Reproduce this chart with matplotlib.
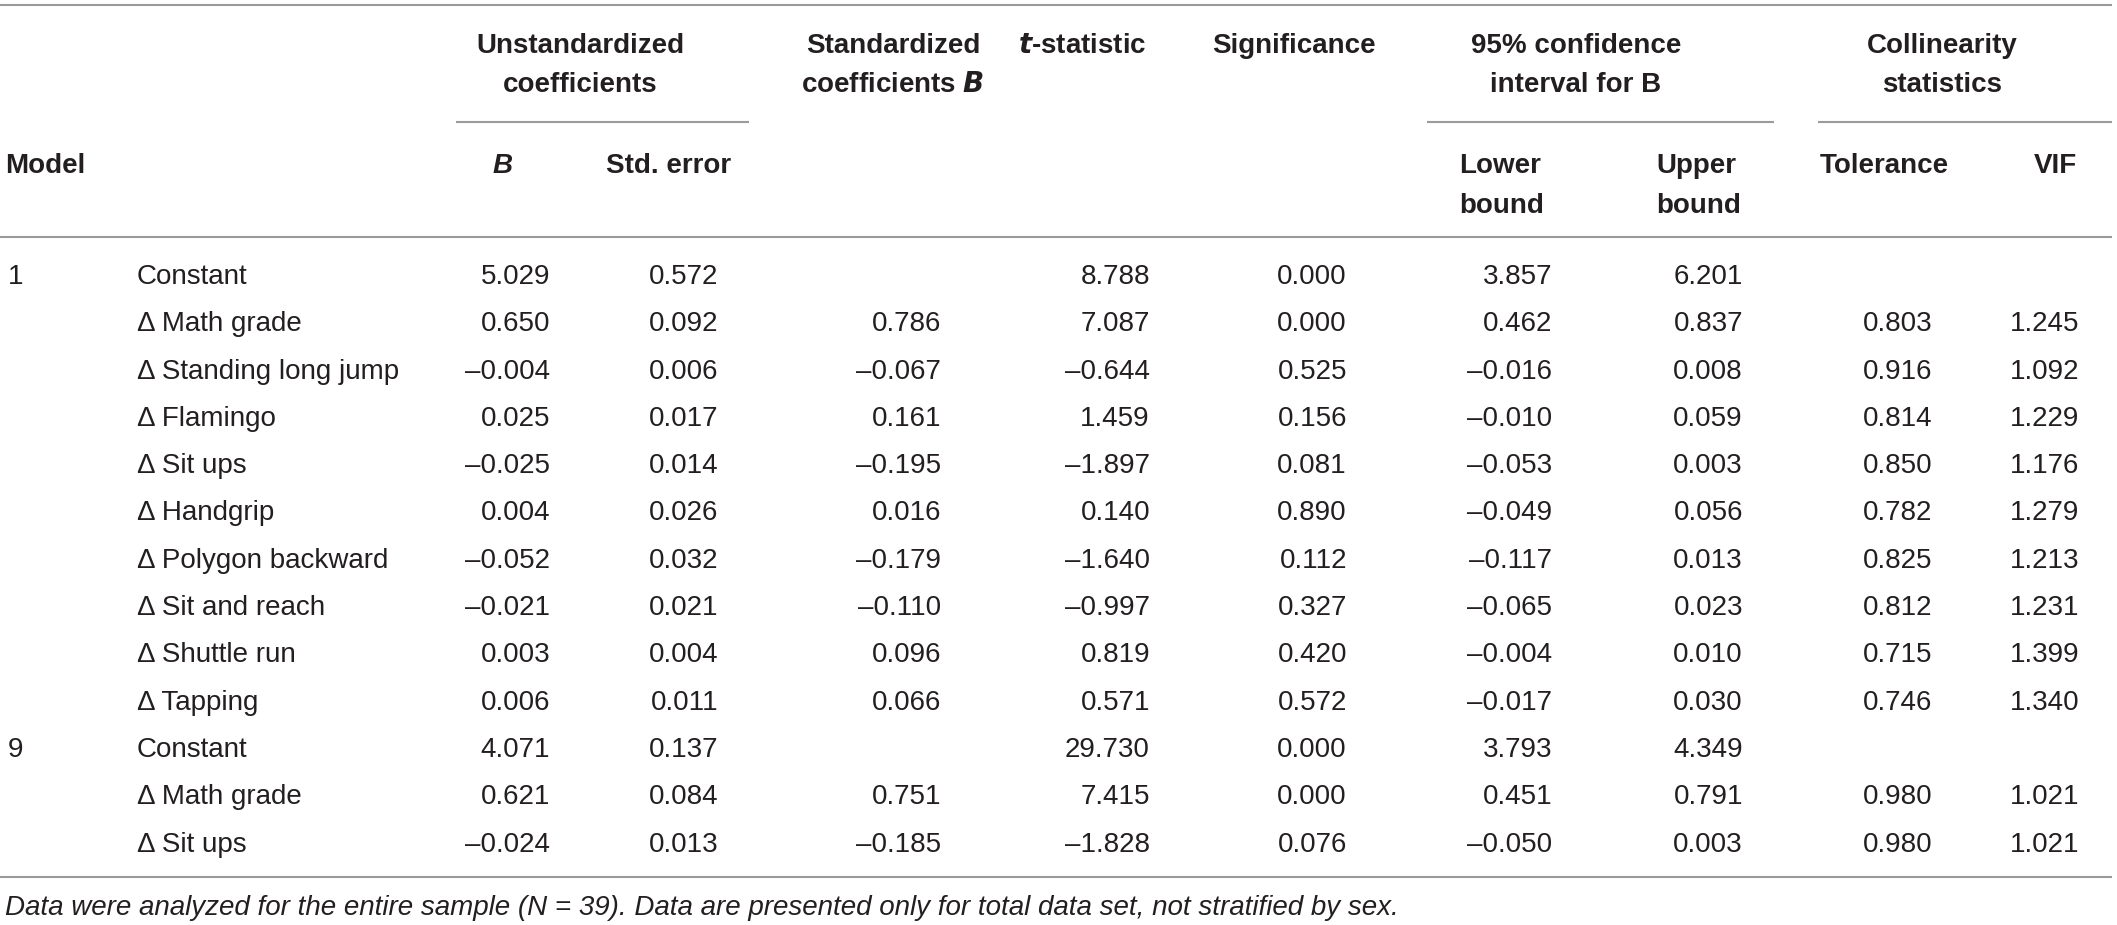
import matplotlib
matplotlib.use("Agg")
import matplotlib.pyplot as plt

plt.rcParams['font.family'] = ['Liberation Sans', 'DejaVu Sans']

# ---- data ----
models = ["1", "", "", "", "", "", "", "", "", "", "9", "", ""]
variables = ["Constant", "\u0394 Math grade", "\u0394 Standing long jump", "\u0394 Flamingo",
             "\u0394 Sit ups", "\u0394 Handgrip", "\u0394 Polygon backward", "\u0394 Sit and reach",
             "\u0394 Shuttle run", "\u0394 Tapping", "Constant", "\u0394 Math grade", "\u0394 Sit ups"]
B = [5.029, 0.650, -0.004, 0.025, -0.025, 0.004, -0.052, -0.021, 0.003, 0.006, 4.071, 0.621, -0.024]
std_error = [0.572, 0.092, 0.006, 0.017, 0.014, 0.026, 0.032, 0.021, 0.004, 0.011, 0.137, 0.084, 0.013]
beta = [None, 0.786, -0.067, 0.161, -0.195, 0.016, -0.179, -0.110, 0.096, 0.066, None, 0.751, -0.185]
t_stat = [8.788, 7.087, -0.644, 1.459, -1.897, 0.140, -1.640, -0.997, 0.819, 0.571, 29.730, 7.415, -1.828]
significance = [0.000, 0.000, 0.525, 0.156, 0.081, 0.890, 0.112, 0.327, 0.420, 0.572, 0.000, 0.000, 0.076]
lower = [3.857, 0.462, -0.016, -0.010, -0.053, -0.049, -0.117, -0.065, -0.004, -0.017, 3.793, 0.451, -0.050]
upper = [6.201, 0.837, 0.008, 0.059, 0.003, 0.056, 0.013, 0.023, 0.010, 0.030, 4.349, 0.791, 0.003]
tolerance = [None, 0.803, 0.916, 0.814, 0.850, 0.782, 0.825, 0.812, 0.715, 0.746, None, 0.980, 0.980]
vif = [None, 1.245, 1.092, 1.229, 1.176, 1.279, 1.213, 1.231, 1.399, 1.340, None, 1.021, 1.021]
footnote = ("Data were analyzed for the entire sample (N = 39). "
            "Data are presented only for total data set, not stratified by sex.")

# ---- layout ----
W, H = 2117, 925
fig = plt.figure(figsize=(W / 100, H / 100), dpi=100)
ax = fig.add_axes([0, 0, 1, 1])
ax.set_xlim(0, W)
ax.set_ylim(H, 0)
ax.axis('off')

FS = 20
TXT = '#231f20'
LINE = '#9b9b9b'
LW = 1.5
CAP = 10  # half cap height in px, center -> baseline

def fmt(v):
    if v is None:
        return ""
    s = f"{v:.3f}"
    return s.replace("-", "\u2013")

def txt(x, yc, s, ha='left', weight='normal', style='normal', size=FS):
    ax.text(x, yc + CAP, s, ha=ha, va='baseline', fontsize=size,
            fontweight=weight, fontstyle=style, color=TXT)

# horizontal rules
ax.plot([0, 2112], [5, 5], color=LINE, lw=LW, solid_capstyle='butt')
ax.plot([0, 2112], [237, 237], color=LINE, lw=LW, solid_capstyle='butt')
ax.plot([0, 2112], [877, 877], color=LINE, lw=LW, solid_capstyle='butt')
for x0, x1 in [(456, 749), (1427, 1774), (1818, 2112)]:
    ax.plot([x0, x1], [122, 122], color=LINE, lw=LW, solid_capstyle='butt')

# header
y1, y2, y3, y4 = 43, 82, 163, 203
txt(580, y1, "Unstandardized", ha='center', weight='bold')
txt(580, y2, "coefficients", ha='center', weight='bold')
txt(893, y1, "Standardized", ha='center', weight='bold')
ax.text(893, y2 + CAP, r"coefficients $\boldsymbol{B}$", ha='center', va='baseline',
        fontsize=FS, fontweight='bold', color=TXT)
ax.text(1018, y1 + CAP, r"$\boldsymbol{t}$-statistic", ha='left', va='baseline',
        fontsize=FS, fontweight='bold', color=TXT)
txt(1212, y1, "Significance", weight='bold')
txt(1576, y1, "95% confidence", ha='center', weight='bold')
txt(1576, y2, "interval for B", ha='center', weight='bold')
txt(1942, y1, "Collinearity", ha='center', weight='bold')
txt(1942, y2, "statistics", ha='center', weight='bold')

txt(5, y3, "Model", weight='bold')
txt(493, y3, "B", weight='bold', style='italic')
txt(606, y3, "Std. error", weight='bold')
txt(1459, y3, "Lower", weight='bold')
txt(1459, y4, "bound", weight='bold')
txt(1656, y3, "Upper", weight='bold')
txt(1656, y4, "bound", weight='bold')
txt(1820, y3, "Tolerance", weight='bold')
txt(2034, y3, "VIF", weight='bold')

# body
plt.rcParams['mathtext.fontset'] = 'custom'
plt.rcParams['mathtext.bf'] = 'Liberation Sans:bold:italic'

col_right = [550, 718, 941, 1150, 1347, 1552, 1743, 1932, 2079]
cols = [B, std_error, beta, t_stat, significance, lower, upper, tolerance, vif]
y0, dy = 274, 47.3
for i in range(len(variables)):
    yc = y0 + i * dy
    txt(8, yc, models[i])
    txt(137, yc, variables[i])
    for xr, col in zip(col_right, cols):
        txt(xr, yc, fmt(col[i]), ha='right')

# footnote
txt(5, 905, footnote, style='italic')

fig.savefig("out.png", dpi=100)
